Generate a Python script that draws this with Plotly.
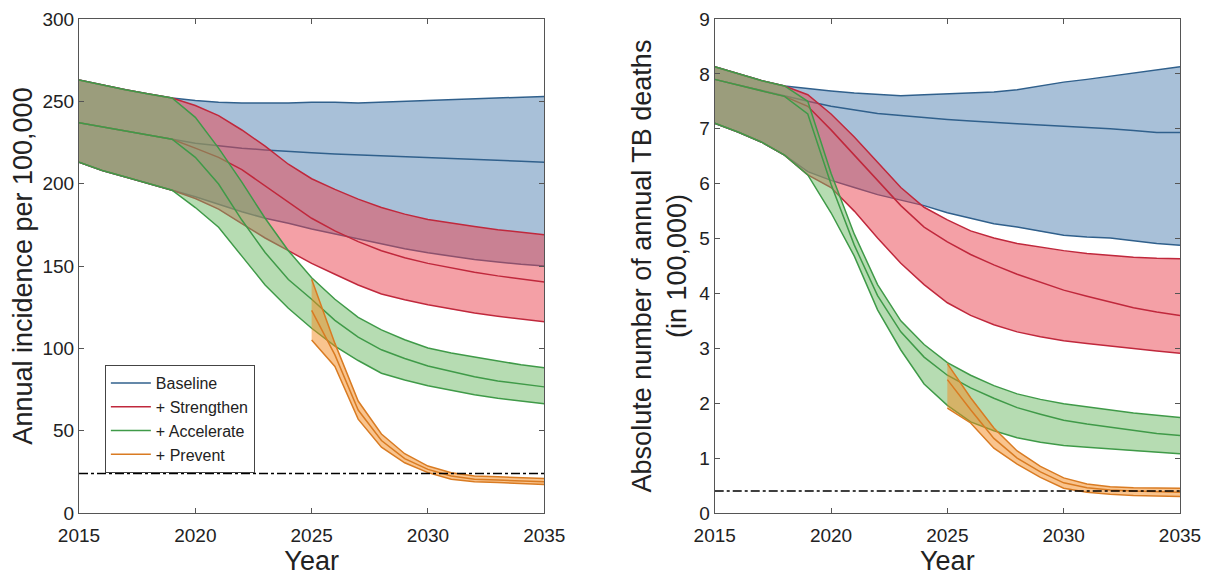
import plotly.graph_objects as go
from plotly.subplots import make_subplots

years = list(range(2015, 2036))
prev_years = list(range(2025, 2036))

# ---------- Left panel: annual incidence per 100,000 ----------
inc_base_hi = [263, 260, 257, 254.5, 252, 250.5, 249.5, 249, 249, 249, 249.5, 249.5, 249, 249.5, 250, 250.5, 251, 251.5, 252, 252.5, 253]
inc_base_mid = [237, 234.5, 232, 229.5, 227, 224.5, 223, 221.5, 220.5, 219.5, 218.8, 218, 217.5, 217, 216.5, 216, 215.5, 214.8, 214.2, 213.6, 213]
inc_base_lo = [213, 208, 204, 200, 196, 192, 187.5, 183, 179, 176, 172.5, 169.5, 166.5, 163.5, 160.5, 158, 156, 154, 152.5, 151, 150]

inc_str_hi = [263, 260, 257, 254.5, 252, 247.5, 241.3, 232.6, 222.8, 211.8, 203, 196.5, 190.6, 185.5, 181.5, 178.3, 176, 174, 172, 170.5, 169]
inc_str_mid = [237, 234.5, 232, 229.5, 227, 221.6, 216, 208.5, 198.7, 188.8, 179, 171.3, 164.8, 159.3, 155, 151.6, 148.7, 146.2, 144, 142, 140.3]
inc_str_lo = [213, 208, 204, 200, 196, 191, 184.5, 175.7, 167, 159.3, 151.6, 145, 138.5, 133, 129.5, 126.5, 123.8, 121.4, 119.5, 117.8, 116.2]

inc_acc_hi = [263, 260, 257, 254.5, 252, 240.3, 221.6, 200.9, 179, 159.3, 142.9, 129.8, 118.8, 111.2, 105.2, 100.2, 97.2, 94.7, 92.2, 90, 88.2]
inc_acc_mid = [237, 234.5, 232, 229.5, 227, 216, 199.8, 177.9, 158.2, 141.8, 129.8, 117, 106.8, 99.1, 93.8, 89.3, 85.8, 82.7, 80.2, 78.3, 76.6]
inc_acc_lo = [213, 208, 204, 200, 196, 185.5, 173.5, 156, 138.5, 124.3, 112.2, 101.3, 92.6, 84.9, 80.8, 77.3, 74.4, 71.8, 69.7, 67.9, 66.3]

inc_prev_hi = [142, 103, 68, 48, 36, 28.5, 24.5, 22.5, 22, 21.5, 21]
inc_prev_mid = [123, 96, 62.5, 44, 33, 26.5, 22.5, 20.5, 20, 19.5, 19]
inc_prev_lo = [105, 89, 57, 40, 30.5, 24.5, 20.5, 19, 18.5, 18, 17.3]

inc_target = 24

# ---------- Right panel: absolute number of TB deaths (in 100,000) ----------
dth_base_hi = [8.13, 8.0, 7.88, 7.78, 7.73, 7.69, 7.65, 7.62, 7.60, 7.62, 7.64, 7.65, 7.67, 7.71, 7.78, 7.85, 7.9, 7.96, 8.02, 8.08, 8.13]
dth_base_mid = [7.90, 7.80, 7.69, 7.59, 7.5, 7.41, 7.34, 7.28, 7.24, 7.2, 7.17, 7.14, 7.11, 7.09, 7.07, 7.05, 7.03, 7.0, 6.97, 6.93, 6.93]
dth_base_lo = [7.10, 6.94, 6.76, 6.52, 6.22, 6.06, 5.93, 5.80, 5.70, 5.60, 5.47, 5.37, 5.27, 5.21, 5.13, 5.06, 5.03, 5.01, 4.96, 4.91, 4.88]

dth_str_hi = [8.13, 8.0, 7.88, 7.78, 7.62, 7.27, 6.85, 6.39, 5.93, 5.57, 5.34, 5.14, 5.01, 4.91, 4.84, 4.78, 4.73, 4.69, 4.66, 4.64, 4.63]
dth_str_mid = [7.90, 7.80, 7.69, 7.59, 7.41, 6.98, 6.52, 6.06, 5.6, 5.21, 4.94, 4.71, 4.52, 4.35, 4.2, 4.06, 3.95, 3.84, 3.74, 3.66, 3.60]
dth_str_lo = [7.10, 6.94, 6.76, 6.52, 6.16, 5.93, 5.5, 5.01, 4.55, 4.16, 3.83, 3.6, 3.43, 3.30, 3.21, 3.14, 3.09, 3.04, 2.99, 2.95, 2.91]

dth_acc_hi = [8.13, 8.0, 7.88, 7.78, 7.5, 6.19, 5.08, 4.16, 3.5, 3.07, 2.74, 2.51, 2.32, 2.17, 2.07, 1.99, 1.93, 1.87, 1.82, 1.78, 1.74]
dth_acc_mid = [7.90, 7.80, 7.69, 7.59, 7.27, 5.99, 4.88, 3.96, 3.30, 2.84, 2.51, 2.28, 2.09, 1.92, 1.8, 1.69, 1.62, 1.56, 1.5, 1.45, 1.41]
dth_acc_lo = [7.10, 6.94, 6.76, 6.52, 6.16, 5.47, 4.68, 3.7, 2.97, 2.35, 1.96, 1.66, 1.5, 1.37, 1.29, 1.23, 1.2, 1.17, 1.13, 1.1, 1.08]

dth_prev_hi = [2.72, 2.1, 1.55, 1.13, 0.85, 0.64, 0.53, 0.48, 0.46, 0.45, 0.45]
dth_prev_mid = [2.43, 1.88, 1.36, 1.0, 0.75, 0.55, 0.46, 0.42, 0.40, 0.39, 0.38]
dth_prev_lo = [1.91, 1.64, 1.18, 0.89, 0.65, 0.45, 0.38, 0.34, 0.32, 0.31, 0.30]

dth_target = 0.4

scenario_names = ["Baseline", "+ Strengthen", "+ Accelerate", "+ Prevent"]
line_colors = ["#30608c", "#c0283c", "#3f9a48", "#d97b22"]
fill_colors = ["rgba(81,129,177,0.5)", "rgba(233,65,77,0.5)",
               "rgba(109,185,101,0.5)", "rgba(243,137,29,0.5)"]

FONT = "Liberation Sans, Arial, sans-serif"

fig = make_subplots(rows=1, cols=2, horizontal_spacing=0.1548)


def add_band(x, hi, mid, lo, idx, col, legend):
    fig.add_trace(go.Scatter(
        x=list(x) + list(x)[::-1], y=list(hi) + list(lo)[::-1],
        fill="toself", fillcolor=fill_colors[idx], mode="lines",
        line=dict(width=0), hoverinfo="skip", showlegend=False),
        row=1, col=col)
    for k, ys in enumerate([hi, mid, lo]):
        fig.add_trace(go.Scatter(
            x=list(x), y=list(ys), mode="lines",
            line=dict(color=line_colors[idx], width=1.5),
            name=scenario_names[idx], legendgroup=scenario_names[idx],
            showlegend=(legend and k == 0)), row=1, col=col)


left = [(years, inc_base_hi, inc_base_mid, inc_base_lo),
        (years, inc_str_hi, inc_str_mid, inc_str_lo),
        (years, inc_acc_hi, inc_acc_mid, inc_acc_lo),
        (prev_years, inc_prev_hi, inc_prev_mid, inc_prev_lo)]
right = [(years, dth_base_hi, dth_base_mid, dth_base_lo),
         (years, dth_str_hi, dth_str_mid, dth_str_lo),
         (years, dth_acc_hi, dth_acc_mid, dth_acc_lo),
         (prev_years, dth_prev_hi, dth_prev_mid, dth_prev_lo)]

for i, (x, hi, mid, lo) in enumerate(left):
    add_band(x, hi, mid, lo, i, 1, True)
for i, (x, hi, mid, lo) in enumerate(right):
    add_band(x, hi, mid, lo, i, 2, False)

for col, target in [(1, inc_target), (2, dth_target)]:
    fig.add_trace(go.Scatter(
        x=[years[0], years[-1]], y=[target, target], mode="lines",
        line=dict(color="black", width=1.5, dash="dashdot"),
        showlegend=False, hoverinfo="skip"), row=1, col=col)

axis_common = dict(
    showline=True, linecolor="#555555", linewidth=1, mirror="ticks",
    ticks="inside", ticklen=5, tickcolor="#555555", showgrid=False,
    zeroline=False, ticklabeloverflow="allow",
    tickfont=dict(family=FONT, size=19, color="#222222"),
    title_font=dict(family=FONT, size=27, color="#222222"))

fig.update_xaxes(range=[2015, 2035], tickvals=[2015, 2020, 2025, 2030, 2035],
                 title_text="Year", title_standoff=3, ticklabelstandoff=5,
                 **axis_common)
fig.update_yaxes(range=[0, 300], tickvals=[0, 50, 100, 150, 200, 250, 300],
                 title_text="Annual incidence per 100,000", title_standoff=2,
                 row=1, col=1, **axis_common)
fig.update_yaxes(range=[0, 9], tickvals=list(range(10)),
                 title_text="Absolute number of annual TB deaths<br>(in 100,000)",
                 title_standoff=4,
                 row=1, col=2, **axis_common)

fig.update_layout(
    width=1210, height=578,
    margin=dict(l=79, r=26, t=9, b=65),
    paper_bgcolor="white", plot_bgcolor="white",
    font=dict(family=FONT, color="#222222"),
    legend=dict(x=0.0235, y=0.2996, xanchor="left", yanchor="top",
                bordercolor="#444444", borderwidth=1, bgcolor="white",
                font=dict(family=FONT, size=16, color="#222222"),
                tracegroupgap=0, itemwidth=40),
)

fig.write_html("out.html",
               config={"displayModeBar": False},
               post_script="document.body.style.margin='0px';"
                           "document.body.style.overflow='hidden';")
